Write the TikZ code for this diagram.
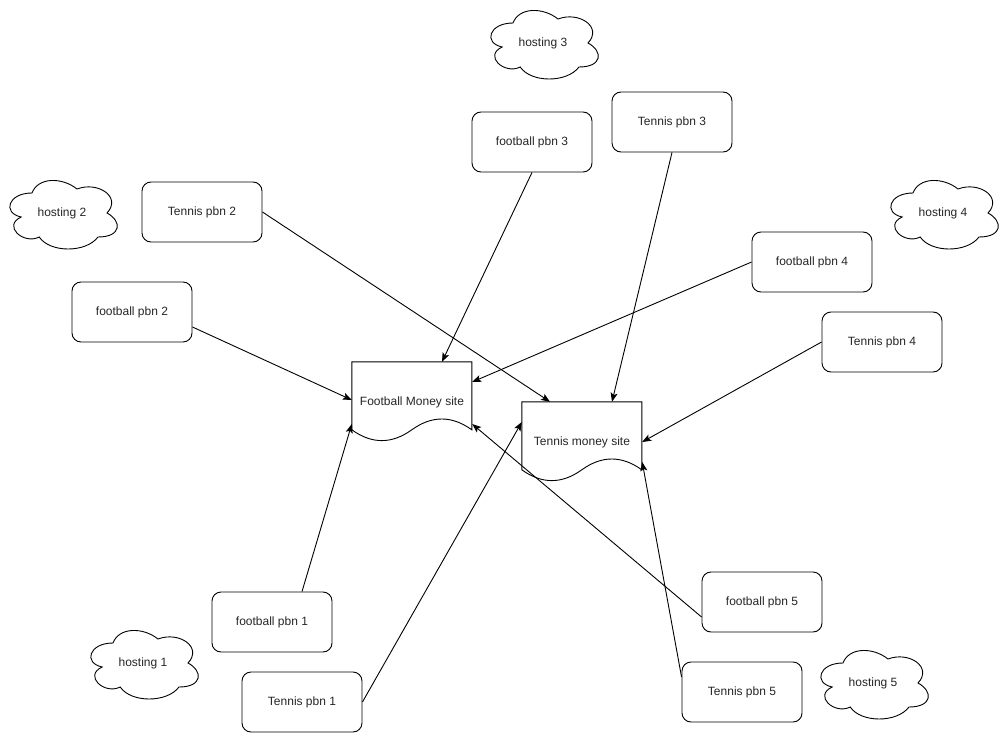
\documentclass[tikz,border=0pt]{standalone}
\usepackage{fontspec}
\setmainfont{Liberation Sans}
\usetikzlibrary{arrows.meta,calc}
\tikzset{
  box/.style={draw, line width=0.9pt, rounded corners=9pt, minimum width=120pt, minimum height=60pt, inner sep=0pt, font=\fontsize{12}{14}\selectfont, text=black!85},
  docbox/.style={minimum width=120pt, minimum height=80pt, inner sep=0pt, font=\fontsize{12}{14}\selectfont, text=black!85},
  docline/.style={draw, line width=0.9pt},
  cloudtext/.style={inner sep=0pt, font=\fontsize{12}{14}\selectfont, text=black!85},
  cloudline/.style={draw, line width=0.9pt},
  conn/.style={line width=0.9pt, -{Stealth[length=9pt,width=7pt,inset=2pt]}}
}
\newcommand\mycloudshape[2]{%
  \begin{scope}[shift={(#1-60,#2-40)}, x=120pt, y=-80pt]
    \path[cloudline] (0.25,0.25) .. controls (0.05,0.25) and (0,0.5) .. (0.16,0.55)
      .. controls (0,0.66) and (0.18,0.9) .. (0.31,0.8)
      .. controls (0.4,1) and (0.7,1) .. (0.8,0.8)
      .. controls (1,0.8) and (1,0.6) .. (0.875,0.5)
      .. controls (1,0.3) and (0.8,0.1) .. (0.625,0.2)
      .. controls (0.5,0.05) and (0.3,0.05) .. (0.25,0.25) -- cycle;
  \end{scope}}
\newcommand\mydocshape[1]{%
  \begin{scope}[shift={(#1.north west)}]
    \path[docline] (0,0) -- (120,0) -- (120,68)
      .. controls (100,53.6) and (80,53.6) .. (60,68)
      .. controls (40,82.4) and (20,82.4) .. (0,68) -- cycle;
  \end{scope}}
\begin{document}
\begin{tikzpicture}[x=1pt,y=-1pt]
\useasboundingbox (0,0) rectangle (1004,733);
\fill[white] (0,0) rectangle (1004,733);

% clouds
\mycloudshape{543}{43}
\node[cloudtext] (h3) at (543,43) {hosting 3};
\mycloudshape{62}{213}
\node[cloudtext] (h2) at (62,213) {hosting 2};
\mycloudshape{943}{213}
\node[cloudtext] (h4) at (943,213) {hosting 4};
\mycloudshape{143}{663}
\node[cloudtext] (h1) at (143,663) {hosting 1};
\mycloudshape{873}{683}
\node[cloudtext] (h5) at (873,683) {hosting 5};

% money sites
\node[docbox] (fm) at (412,402) {Football Money site};
\mydocshape{fm}
\node[docbox] (tm) at (582,442) {Tennis money site};
\mydocshape{tm}

% pbn boxes
\node[box] (fb3) at (532,142) {football pbn 3};
\node[box] (tn3) at (672,122) {Tennis pbn 3};
\node[box] (tn2) at (202,212) {Tennis pbn 2};
\node[box] (fb2) at (132,312) {football pbn 2};
\node[box] (fb4) at (812,262) {football pbn 4};
\node[box] (tn4) at (882,342) {Tennis pbn 4};
\node[box] (fb1) at (272,622) {football pbn 1};
\node[box] (tn1) at (302,702) {Tennis pbn 1};
\node[box] (fb5) at (762,602) {football pbn 5};
\node[box] (tn5) at (742,692) {Tennis pbn 5};

% connectors
\draw[conn] (fb3.south) -- ([xshift=30pt]fm.north);
\draw[conn] (tn3.south) -- ([xshift=30pt]tm.north);
\draw[conn] (tn2.east) -- ([xshift=-32pt]tm.north);
\draw[conn] ([yshift=-15pt]fb2.east) -- ([yshift=2pt]fm.west);
\draw[conn] (fb4.west) -- ([yshift=20pt]fm.east);
\draw[conn] (tn4.west) -- (tm.east);
\draw[conn] ([xshift=30pt]fb1.north) -- ([yshift=-22pt]fm.west);
\draw[conn] (tn1.east) -- ([yshift=20pt]tm.west);
\draw[conn] ([yshift=-15pt]fb5.west) -- ([yshift=-22pt]fm.east);
\draw[conn] ([yshift=15pt]tn5.west) -- ([yshift=-20pt]tm.east);
\end{tikzpicture}
\end{document}
